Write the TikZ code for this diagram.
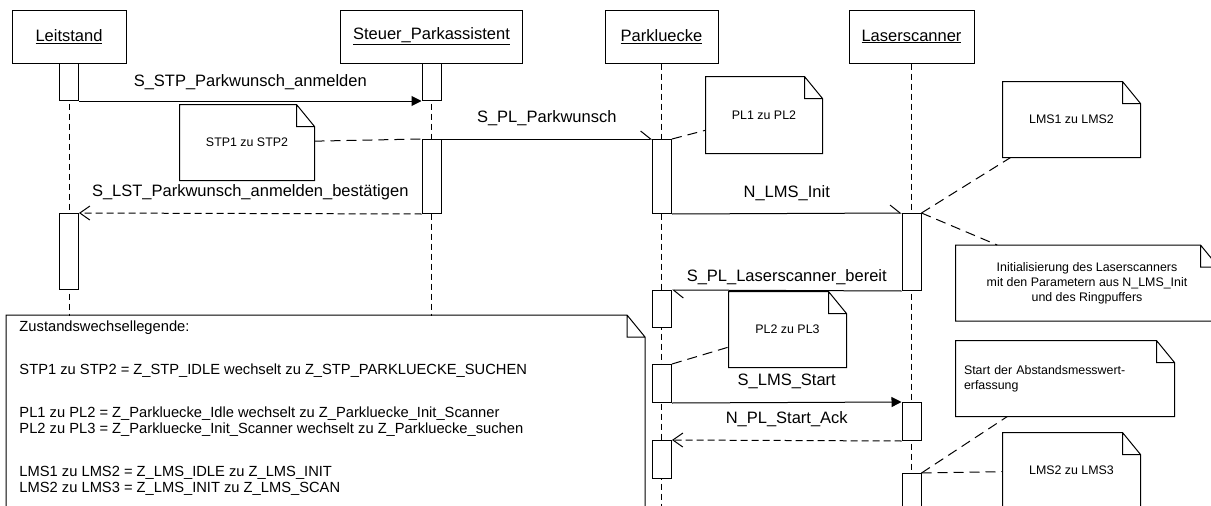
\documentclass[tikz,border=0pt]{standalone}
\usepackage{fontspec}
\setmainfont{Liberation Sans}
\usepackage{tikz}
\usetikzlibrary{arrows.meta, positioning, calc}

\newcommand{\msgfont}{\fontsize{16.5}{20}\selectfont}
\newcommand{\notefont}{\fontsize{12.4}{15}\selectfont}
\newcommand{\legendfont}{\fontsize{14.7}{16}\selectfont}

% Notiz mit Eselsohr
\newcommand{\notefold}[1]{%
  \draw (#1.north west) -- ([xshift=-18pt]#1.north east)
    -- ([yshift=-22pt]#1.north east) -- (#1.south east)
    -- (#1.south west) -- cycle
    ([xshift=-18pt]#1.north east) |- ([yshift=-22pt]#1.north east);}

\begin{document}
\begin{tikzpicture}[
  x=1pt, y=-1pt, line width=1pt,
  every node/.style={font=\msgfont},
  actor/.style={draw, minimum height=53pt, inner sep=0pt},
  act/.style={draw, fill=white, minimum width=19pt, inner sep=0pt, anchor=north},
  life/.style={dash pattern=on 6pt off 4pt},
  sync/.style={-{Triangle[length=10pt, width=10pt]}},
  async/.style={-{Straight Barb[left, length=10pt, width=16pt]}},
  reply/.style={dash pattern=on 7pt off 4pt, -{Straight Barb[length=10pt, width=14pt]}},
  msglabel/.style={inner sep=0pt, text height=12pt, text depth=4pt},
  notebox/.style={fill=white, inner sep=0pt, font=\notefont, align=center},
  noteline/.style={dash pattern=on 10pt off 6pt},
  legendtext/.style={inner sep=0pt, align=left, font=\legendfont}
]
  \useasboundingbox (0,0) rectangle (1211,506);
  \clip (0,0) rectangle (1211,506);

  % Objekte (obere Reihe)
  \node[actor, minimum width=114pt] (leit) at (69,36.5) {\underline{Leitstand}};
  \node[actor, minimum width=182pt] (stp) at (431.5,36.5) {\underline{Steuer\_Parkassistent}};
  \node[actor, minimum width=113pt] (pl) at (661.5,36.5) {\underline{Parkluecke}};
  \node[actor, minimum width=125pt] (lms) at (911.5,36.5) {\underline{Laserscanner}};

  % Lebenslinien
  \coordinate (leit-end) at (69,520);
  \coordinate (stp-end) at (431.5,520);
  \coordinate (pl-end) at (661.5,520);
  \coordinate (lms-end) at (911.5,520);
  \draw[life] (leit.south) -- (leit-end);
  \draw[life] (stp.south) -- (stp-end);
  \draw[life] (pl.south) -- (pl-end);
  \draw[life] (lms.south) -- (lms-end);

  % Legende
  \node[notebox, minimum width=638pt, minimum height=220pt, anchor=north west] (legend) at (6,315) {};
  \notefold{legend}
  \node[legendtext, anchor=north west] (legtext) at ([xshift=13pt, yshift=-5pt]legend.north west)
    {Zustandswechsellegende:\\[27pt]
     STP1 zu STP2 = Z\_STP\_IDLE wechselt zu Z\_STP\_PARKLUECKE\_SUCHEN\\[27pt]
     PL1 zu PL2 = Z\_Parkluecke\_Idle wechselt zu Z\_Parkluecke\_Init\_Scanner\\
     PL2 zu PL3 = Z\_Parkluecke\_Init\_Scanner wechselt zu Z\_Parkluecke\_suchen\\[27pt]
     LMS1 zu LMS2 = Z\_LMS\_IDLE zu Z\_LMS\_INIT\\
     LMS2 zu LMS3 = Z\_LMS\_INIT zu Z\_LMS\_SCAN};

  % Aktivierungen
  \node[act, minimum height=37pt] (la1) at (69,63) {};
  \node[act, minimum height=76pt] (la2) at (69,213) {};
  \node[act, minimum height=37pt] (sa1) at (431.5,63) {};
  \node[act, minimum height=74pt] (sa2) at (431.5,139) {};
  \node[act, minimum height=74pt] (pa1) at (662,139) {};
  \node[act, minimum height=37pt] (pa2) at (662,290) {};
  \node[act, minimum height=38pt] (pa3) at (662,364) {};
  \node[act, minimum height=38pt] (pa4) at (662,440) {};
  \node[act, minimum height=77pt] (ma1) at (911.5,213) {};
  \node[act, minimum height=38pt] (ma2) at (911.5,402) {};
  \node[act, minimum height=60pt] (ma3) at (911.5,473) {};

  % Nachrichten
  \draw[sync] (la1.south east) -- (sa1.south west)
    node[msglabel, midway, above=10pt] {S\_STP\_Parkwunsch\_anmelden};
  \draw[async] (sa2.north east) -- (pa1.north west)
    node[msglabel, midway, above=12pt] {S\_PL\_Parkwunsch};
  \draw[reply] (sa2.south west) -- (la2.north east)
    node[msglabel, midway, above=13pt] {S\_LST\_Parkwunsch\_anmelden\_bestätigen};
  \draw[async] (pa1.south east) -- (ma1.north west)
    node[msglabel, midway, above=12pt] {N\_LMS\_Init};
  \draw[async] (ma1.south west) -- (pa2.north east)
    node[msglabel, midway, above=5pt] {S\_PL\_Laserscanner\_bereit};
  \draw[sync] (pa3.south east) -- (ma2.north west)
    node[msglabel, midway, above=13pt] {S\_LMS\_Start};
  \draw[reply] (ma2.south west) -- (pa4.north east)
    node[msglabel, midway, above=13pt] {N\_PL\_Start\_Ack};

  % Notizen
  \node[notebox, minimum width=134pt, minimum height=75pt] (n1) at (247,142.5) {STP1 zu STP2};
  \node[notebox, minimum width=116pt, minimum height=76pt] (n2) at (764,115) {PL1 zu PL2};
  \node[notebox, minimum width=137pt, minimum height=75pt] (n3) at (1071.5,119.5) {LMS1 zu LMS2};
  \node[notebox, minimum width=262pt, minimum height=75pt] (n4) at (1087,283)
    {Initialisierung des Laserscanners\\mit den Parametern aus N\_LMS\_Init\\und des Ringpuffers};
  \node[notebox, minimum width=117pt, minimum height=75pt] (n5) at (787.5,329.5) {PL2 zu PL3};
  \node[notebox, minimum width=218pt, minimum height=75pt, align=left, text width=202pt] (n6) at (1065,378.5)
    {Start der Abstandsmesswert-\\erfassung};
  \node[notebox, minimum width=137pt, minimum height=75pt] (n7) at (1071.5,470.5) {LMS2 zu LMS3};
  \notefold{n1} \notefold{n2} \notefold{n3} \notefold{n4}
  \notefold{n5} \notefold{n6} \notefold{n7}

  % Verbindungen zu den Notizen
  \draw[noteline] (n1) -- (sa2.north west);
  \draw[noteline] (pa1.north east) -- (n2);
  \draw[noteline] (ma1.north east) -- (n3);
  \draw[noteline] (ma1.north east) -- (n4);
  \draw[noteline] (pa3.north east) -- (n5);
  \draw[noteline] (ma3.north east) -- (n6);
  \draw[noteline] (ma3.north east) -- (n7);

\end{tikzpicture}
\end{document}
